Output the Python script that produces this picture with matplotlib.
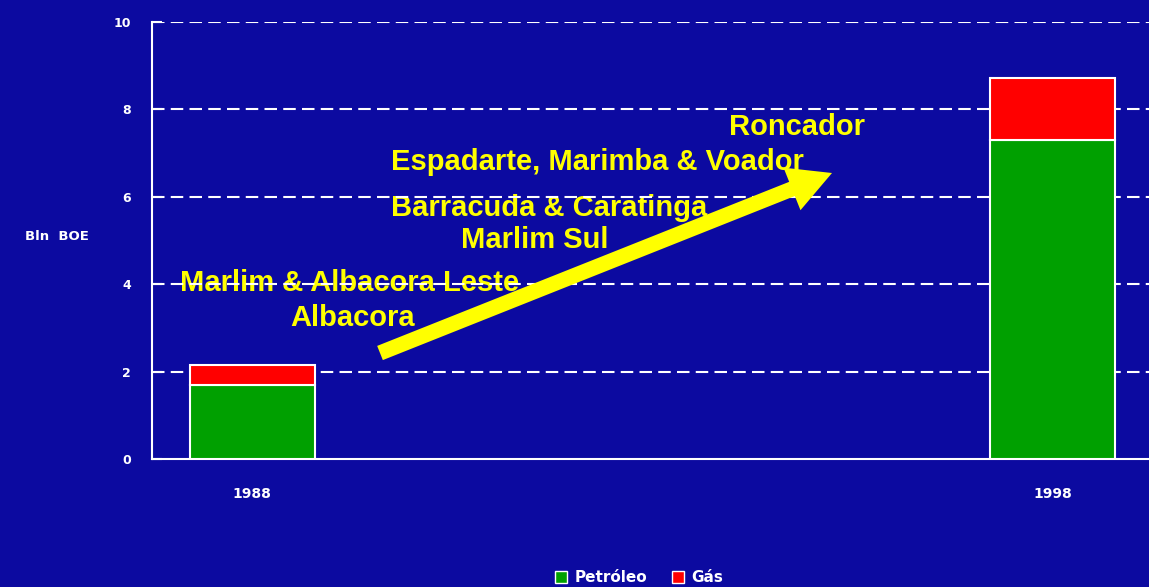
import matplotlib

matplotlib.use("Agg")

import matplotlib.pyplot as plt
from matplotlib.patches import Patch

BG = "#0C0AA0"
GREEN = "#00A000"
RED = "#FF0000"
YELLOW = "#FFFF00"

years = ["1988", "1998"]
petroleo = [1.7, 7.3]
gas = [0.45, 1.42]
fields = [
    "Roncador",
    "Espadarte, Marimba & Voador",
    "Barracuda & Caratinga",
    "Marlim Sul",
    "Marlim & Albacora Leste",
    "Albacora",
]
yticks = [0, 2, 4, 6, 8, 10]

W, H = 1149, 587
fig = plt.figure(figsize=(W / 100, H / 100), dpi=100, facecolor=BG)
ax = fig.add_axes([152 / W, 1 - 459 / H, 1 - 152 / W, (459 - 22) / H])
ax.set_facecolor(BG)

x = [0, 1]
ax.bar(x, petroleo, width=0.156, color=GREEN, edgecolor="white", linewidth=1.5, zorder=3)
ax.bar(x, gas, bottom=petroleo, width=0.156, color=RED, edgecolor="white", linewidth=1.5, zorder=3)

for yv in yticks[1:]:
    ax.axhline(yv, color="white", lw=1.5, dashes=(6, 3), zorder=1.5)

ax.set_xlim(-0.125, 1.12)
ax.set_ylim(0, 10)
ax.set_yticks(yticks)
ax.set_xticks(x)
ax.set_xticklabels(years)
ax.tick_params(axis="y", direction="in", length=7, width=1.5, colors="white",
               labelsize=9, pad=15)
ax.tick_params(axis="x", length=0, colors="white", labelsize=10, pad=20)
for lab in ax.get_xticklabels() + ax.get_yticklabels():
    lab.set_fontweight("bold")
for side in ["top", "right"]:
    ax.spines[side].set_visible(False)
for side in ["left", "bottom"]:
    ax.spines[side].set_color("white")
    ax.spines[side].set_linewidth(1.5)

fig.text(57 / W, 1 - 237 / H, "Bln  BOE", color="white", fontsize=9.5,
         fontweight="bold", ha="center", va="center")

# field names, placed in figure pixels
label_pos = [(797, 127), (597, 162), (549, 208), (535, 240), (350, 283), (353, 318)]
for name, (px, py) in zip(fields, label_pos):
    ax.text(px / W, 1 - py / H, name, transform=fig.transFigure, color=YELLOW,
            fontsize=21, fontweight="bold", ha="center", va="center", zorder=1,
            family=["Liberation Sans", "DejaVu Sans"])

ax.annotate("", xy=(832, H - 173), xytext=(380, H - 353),
            xycoords="figure pixels", textcoords="figure pixels",
            arrowprops=dict(arrowstyle="simple,head_width=3.3,head_length=3.1,tail_width=1.1",
                            mutation_scale=10, color=YELLOW, lw=0, shrinkA=0, shrinkB=0),
            zorder=4)

handles = [Patch(facecolor=GREEN, edgecolor="white"), Patch(facecolor=RED, edgecolor="white")]
leg = fig.legend(handles, ["Petróleo", "Gás"], loc="lower center",
                 bbox_to_anchor=(639 / W, -0.02), ncol=2, frameon=False,
                 fontsize=11, handlelength=0.8, handleheight=0.8, handletextpad=0.5,
                 columnspacing=1.6)
for t in leg.get_texts():
    t.set_color("white")
    t.set_fontweight("bold")

fig.savefig("out.png", dpi=100, facecolor=BG)
